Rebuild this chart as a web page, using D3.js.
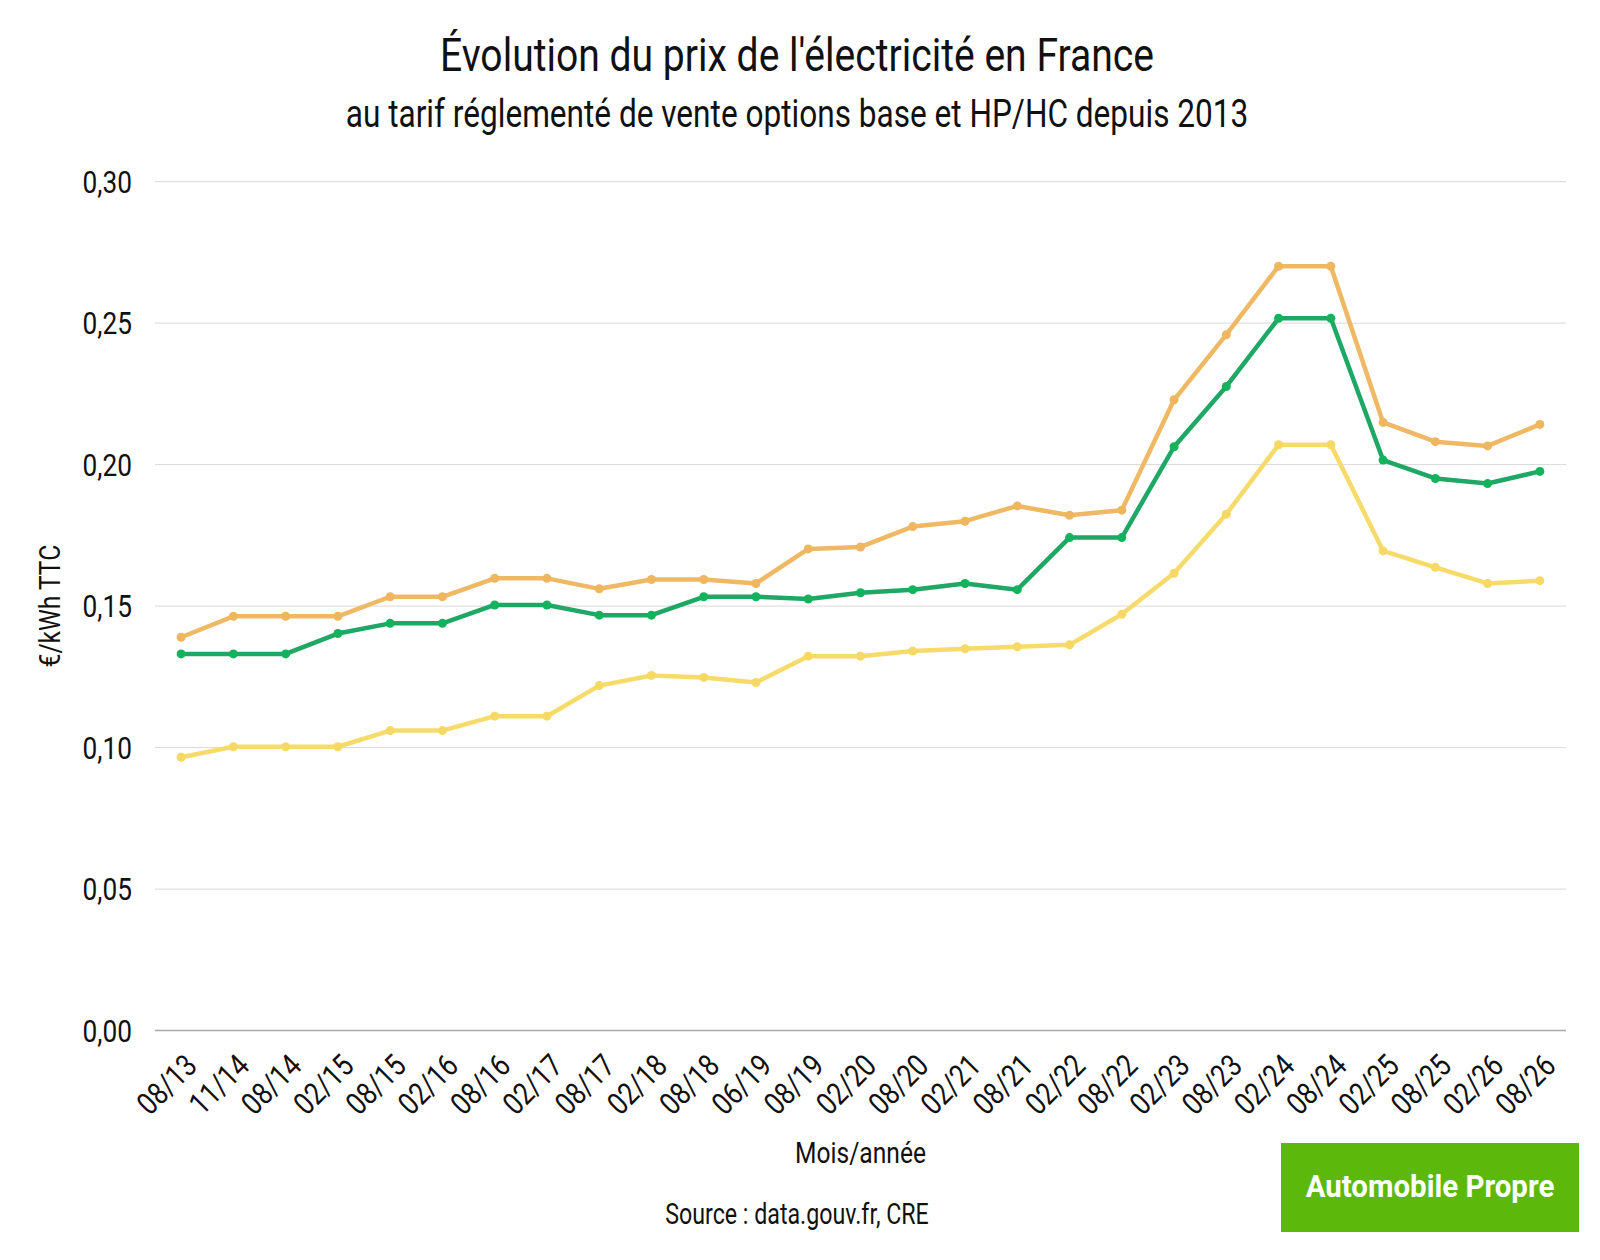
<!DOCTYPE html>
<html>
<head>
<meta charset="utf-8">
<script src="https://cdn.jsdelivr.net/npm/d3@7"></script>
<style>
  body { margin: 0; background: #fff; }
  text { font-family: Roboto, "Noto Sans", sans-serif; fill: #111; }
</style>
</head>
<body>
<div id="chart"></div>
<script>
// periods (mois/année)
const periods = ["08/13", "11/14", "08/14", "02/15", "08/15", "02/16", "08/16", "02/17", "08/17",
  "02/18", "08/18", "06/19", "08/19", "02/20", "08/20", "02/21", "08/21", "02/22", "08/22",
  "02/23", "08/23", "02/24", "08/24", "02/25", "08/25", "02/26", "08/26"];

// €/kWh TTC
const orangeValues = [0.139, 0.1464, 0.1464, 0.1464, 0.1533, 0.1533, 0.1598, 0.1598, 0.1561,
  0.1594, 0.1594, 0.158, 0.1702, 0.1709, 0.1781, 0.180, 0.1854, 0.1821, 0.1839,
  0.2229, 0.2459, 0.2701, 0.2701, 0.2149, 0.2081, 0.2066, 0.2142];
const greenValues = [0.1331, 0.1331, 0.1331, 0.1403, 0.1439, 0.1439, 0.1504, 0.1504, 0.1468,
  0.1468, 0.1533, 0.1533, 0.1525, 0.1547, 0.1558, 0.158, 0.1558, 0.1742, 0.1742,
  0.2063, 0.2276, 0.2517, 0.2517, 0.2016, 0.1951, 0.1933, 0.1976];
const yellowValues = [0.0966, 0.1003, 0.1003, 0.1003, 0.106, 0.106, 0.1111, 0.1111, 0.1219,
  0.1255, 0.1248, 0.123, 0.1323, 0.1323, 0.1341, 0.1349, 0.1356, 0.1363, 0.1471,
  0.1616, 0.1825, 0.207, 0.207, 0.1695, 0.1637, 0.158, 0.159];

const yTicks = [0, 0.05, 0.10, 0.15, 0.20, 0.25, 0.30];

const width = 1600, height = 1260;
const margin = {top: 181.6, right: 34, bottom: 229.4, left: 155};

const svg = d3.select("#chart").append("svg")
  .attr("width", width)
  .attr("height", height);

const x = d3.scalePoint().domain(periods)
  .range([margin.left, width - margin.right]).padding(0.5);
const y = d3.scaleLinear().domain([0, 0.30])
  .range([height - margin.bottom, margin.top]);

const fmt = v => d3.format(".2f")(v).replace(".", ",");

// condensed-looking text: Roboto squeezed horizontally
function label(parent, px, py, str, opts) {
  const o = Object.assign({size: 30, k: 0.82, anchor: "middle", rot: 0, weight: 400, fill: "#111", baseline: null}, opts);
  const t = parent.append("text")
    .attr("transform", `translate(${px},${py}) rotate(${o.rot}) scale(${o.k},1)`)
    .attr("text-anchor", o.anchor)
    .attr("font-size", o.size)
    .attr("font-weight", o.weight)
    .style("fill", o.fill)
    .text(str);
  if (o.baseline) t.attr("dominant-baseline", o.baseline);
  return t;
}

// titres
label(svg, 797, 71, "Évolution du prix de l'électricité en France", {size: 46, k: 0.85});
label(svg, 797, 127, "au tarif réglementé de vente options base et HP/HC depuis 2013", {size: 39, k: 0.81});

// grille
svg.append("g").selectAll("line")
  .data(yTicks)
  .join("line")
  .attr("x1", margin.left)
  .attr("x2", width - margin.right)
  .attr("y1", d => y(d))
  .attr("y2", d => y(d))
  .attr("stroke", d => d === 0 ? "#a9a9a9" : "#d9d9d9")
  .attr("stroke-width", d => d === 0 ? 1.5 : 1);

// axe y
const yAxis = svg.append("g");
yTicks.forEach(v => {
  label(yAxis, 132, y(v), fmt(v), {size: 32, k: 0.82, anchor: "end", baseline: "central"});
});
label(svg, 50, y(0.15), "€/kWh TTC", {size: 30, k: 0.82, rot: -90, baseline: "central"});

// axe x
const xAxis = svg.append("g");
periods.forEach(p => {
  label(xAxis, x(p) + 10, 1060, p, {size: 31, k: 0.84, anchor: "end", rot: -45, baseline: "central"});
});
label(svg, (margin.left + width - margin.right) / 2, 1163, "Mois/année", {size: 30, k: 0.82});
label(svg, 797, 1224, "Source : data.gouv.fr, CRE", {size: 29, k: 0.8});

// séries
const series = [
  {values: yellowValues, line: "#f6db6a", dot: "#f6d964"},
  {values: orangeValues, line: "#efb865", dot: "#efb660"},
  {values: greenValues, line: "#1fa766", dot: "#13b35d"}
];

const line = d3.line()
  .x((d, i) => x(periods[i]))
  .y(d => y(d));

series.forEach(s => {
  const g = svg.append("g");
  g.append("path")
    .datum(s.values)
    .attr("d", line)
    .attr("fill", "none")
    .attr("stroke", s.line)
    .attr("stroke-width", 4.5)
    .attr("stroke-linejoin", "round");
  g.selectAll("circle")
    .data(s.values)
    .join("circle")
    .attr("cx", (d, i) => x(periods[i]))
    .attr("cy", d => y(d))
    .attr("r", 4.5)
    .attr("fill", s.dot);
});

// logo
const logo = svg.append("g");
logo.append("rect")
  .attr("x", 1281).attr("y", 1143)
  .attr("width", 298).attr("height", 89)
  .attr("fill", "#5cb90b");
logo.append("text")
  .attr("transform", "translate(1430,1197) scale(0.95,1)")
  .attr("text-anchor", "middle")
  .attr("font-family", "'Open Sans', sans-serif")
  .attr("font-weight", 700)
  .attr("font-size", 31)
  .style("fill", "#fff")
  .text("Automobile Propre");
</script>
</body>
</html>
